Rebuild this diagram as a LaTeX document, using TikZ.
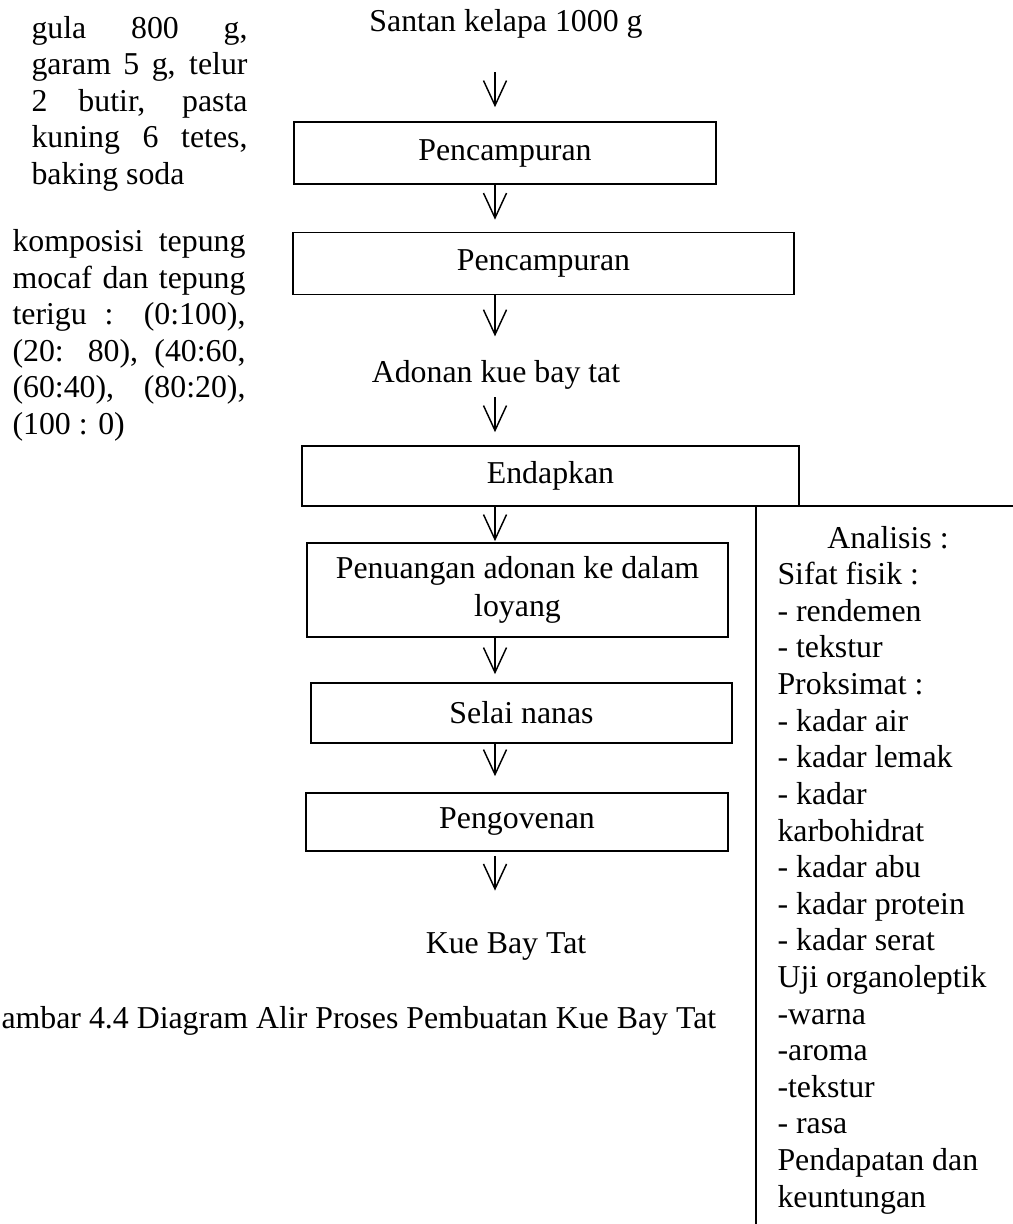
\documentclass[tikz,border=0pt]{standalone}
\usepackage{fontspec}
\setmainfont{Liberation Serif}
\usetikzlibrary{arrows.meta}
\newdimen\pxl \pxl=0.377pt
\begin{document}
\begin{tikzpicture}[x=0.377pt,y=-0.377pt,
  every node/.style={inner sep=0pt, font=\fontsize{12}{13.8}\selectfont},
  procbox/.style={draw, line width=0.6pt, inner sep=0pt},
  arr/.style={line width=0.55pt, -{Straight Barb[length=9.4pt,width=8.7pt]}},
  lbl/.style={anchor=base},
  txtblock/.style={anchor=north west, align=left},
  frame/.style={line width=0.6pt}]
\useasboundingbox (0,0) rectangle (1013,1224);
\coordinate (ax) at (495,0);
% main column
\node[lbl] (santan) at (506,32) {Santan kelapa 1000 g};
\node[procbox, minimum width=422*\pxl, minimum height=62*\pxl] (b1) at (505,153) {Pencampuran};
\node[procbox, minimum width=501*\pxl, minimum height=62*\pxl] (b2) at (543.5,263.5) {Pencampuran};
\node[lbl] (adonan) at (496,383) {Adonan kue bay tat};
\node[procbox, minimum width=497*\pxl, minimum height=60*\pxl] (b3) at (550.5,476) {Endapkan};
\node[procbox, minimum width=421*\pxl, minimum height=94*\pxl, align=center,
  font=\fontsize{12}{14.3}\selectfont] (b4) at (517.5,590) {Penuangan adonan ke dalam\\loyang};
\node[procbox, minimum width=421*\pxl, minimum height=60*\pxl] (b5) at (521.5,713) {Selai nanas};
\node[procbox, minimum width=422*\pxl, minimum height=58*\pxl] (b6) at (517,822) {Pengovenan};
\node[lbl] (kue) at (506,953) {Kue Bay Tat};
\node[anchor=base west] (caption) at (1,1028) {ambar 4.4 Diagram Alir Proses Pembuatan Kue Bay Tat};
% connectors
\draw[arr, shorten <=33*\pxl, shorten >=14*\pxl] (santan.south -| ax) -- (b1.north -| ax);
\draw[arr, shorten >=12*\pxl] (b1.south -| ax) -- (b2.north -| ax);
\draw[arr, shorten >=24*\pxl] (b2.south -| ax) -- (adonan.north -| ax);
\draw[arr, shorten <=7*\pxl, shorten >=13*\pxl] (adonan.south -| ax) -- (b3.north -| ax);
\draw[arr, shorten >=1*\pxl] (b3.south -| ax) -- (b4.north -| ax);
\draw[arr, shorten >=8*\pxl] (b4.south -| ax) -- (b5.north -| ax);
\draw[arr, shorten >=16*\pxl] (b5.south -| ax) -- (b6.north -| ax);
\draw[arr, shorten <=4*\pxl, shorten >=41*\pxl] (b6.south -| ax) -- (kue.north -| ax);
% left text blocks
\node[txtblock] (bahan) at (31,12) {%
\makebox[216\pxl][s]{\strut gula 800 g,}\\
\makebox[216\pxl][s]{garam 5 g, telur}\\
\makebox[216\pxl][s]{2 butir, pasta}\\
\makebox[216\pxl][s]{kuning 6 tetes,}\\
baking soda};
\node[txtblock] (komposisi) at (12,225.4) {%
\makebox[233\pxl][s]{\strut komposisi tepung}\\
\makebox[233\pxl][s]{mocaf dan tepung}\\
\makebox[233\pxl][s]{terigu : (0:100),}\\
\makebox[233\pxl][s]{(20: 80), (40:60,}\\
\makebox[233\pxl][s]{(60:40), (80:20),}\\
(100 : 0)};
% analysis panel
\draw[frame] (1013,506) -- (756,506) -- (756,1224);
\node[txtblock] (analisis) at (777,522) {%
\makebox[221\pxl]{\strut Analisis :}\\
Sifat fisik :\\
- rendemen\\
- tekstur\\
Proksimat :\\
- kadar air\\
- kadar lemak\\
- kadar\\
karbohidrat\\
- kadar abu\\
- kadar protein\\
- kadar serat\\
Uji organoleptik\\
-warna\\
-aroma\\
-tekstur\\
- rasa\\
Pendapatan dan\\
keuntungan};
\end{tikzpicture}
\end{document}
